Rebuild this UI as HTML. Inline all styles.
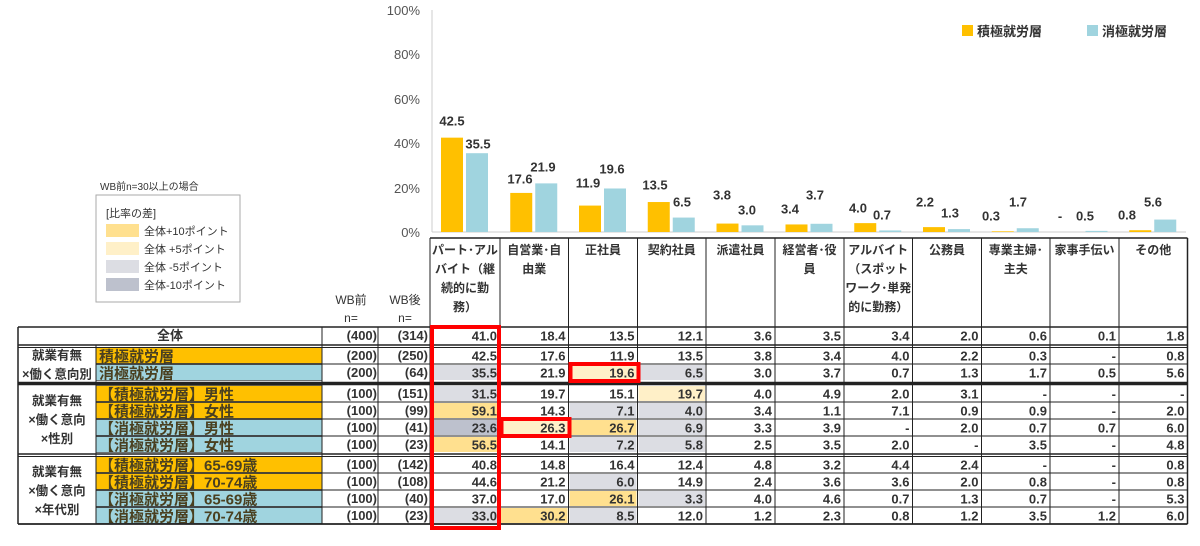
<!DOCTYPE html>
<html><head><meta charset="utf-8"><style>
html,body{margin:0;padding:0;background:#fff;}
svg{display:block;font-family:"Liberation Sans","Noto Sans CJK JP",sans-serif;}
.b{font-weight:bold;}
</style></head><body>
<svg width="1200" height="546" viewBox="0 0 1200 546" xmlns="http://www.w3.org/2000/svg">
<g font-size="13" fill="#555" text-anchor="end">
<text x="420" y="15">100%</text><text x="420" y="59">80%</text><text x="420" y="104">60%</text>
<text x="420" y="148">40%</text><text x="420" y="193">20%</text><text x="420" y="237">0%</text>
</g>
<line x1="432" y1="10" x2="432" y2="232" stroke="#ccc"/>
<line x1="432" y1="232" x2="1186" y2="232" stroke="#ccc"/>
<rect x="962" y="25" width="11" height="11" fill="#FFC000"/>
<text x="977" y="36" font-size="13" class="b" fill="#333">積極就労層</text>
<rect x="1087" y="25" width="11" height="11" fill="#A0D4DF"/>
<text x="1102" y="36" font-size="13" class="b" fill="#333">消極就労層</text>
<g id="bars"></g>
<g font-size="13" class="b" fill="#333" text-anchor="middle" dominant-baseline="central">
<text x="452" y="121">42.5</text><text x="478" y="144">35.5</text>
<text x="520" y="179">17.6</text><text x="543" y="167">21.9</text>
<text x="588" y="183">11.9</text><text x="612" y="169">19.6</text>
<text x="655" y="185">13.5</text><text x="682" y="202">6.5</text>
<text x="722" y="195">3.8</text><text x="747" y="210">3.0</text>
<text x="790" y="209">3.4</text><text x="815" y="195">3.7</text>
<text x="858" y="208">4.0</text><text x="882" y="215">0.7</text>
<text x="925" y="202">2.2</text><text x="950" y="213">1.3</text>
<text x="991" y="216">0.3</text><text x="1018" y="202">1.7</text>
<text x="1060" y="216">-</text><text x="1085" y="216">0.5</text>
<text x="1127" y="215">0.8</text><text x="1153" y="202">5.6</text>
</g>
<text x="100" y="190" font-size="10" fill="#333">WB前n=30以上の場合</text>
<rect x="96" y="195" width="144" height="107" fill="#fff" stroke="#aaa"/>
<text x="106" y="217" font-size="11" fill="#333">[比率の差]</text>
<rect x="106" y="224" width="33" height="13" fill="#FFE08F"/><text x="144" y="235" font-size="11" fill="#333">全体+10ポイント</text>
<rect x="106" y="242" width="33" height="13" fill="#FFF0C8"/><text x="144" y="253" font-size="11" fill="#333">全体 +5ポイント</text>
<rect x="106" y="260" width="33" height="13" fill="#DCDDE3"/><text x="144" y="271" font-size="11" fill="#333">全体 -5ポイント</text>
<rect x="106" y="278" width="33" height="13" fill="#BDC1CD"/><text x="144" y="289" font-size="11" fill="#333">全体-10ポイント</text>
<g font-size="12" fill="#333" text-anchor="middle">
<text x="351" y="304">WB前</text><text x="351" y="322">n=</text>
<text x="405" y="304">WB後</text><text x="405" y="322">n=</text>
</g>
<g id="tbl"></g>
</svg>
<script>
var NS="http://www.w3.org/2000/svg";
function el(p,t,a,txt){var e=document.createElementNS(NS,t);for(var k in a)e.setAttribute(k,a[k]);if(txt!=null)e.textContent=txt;p.appendChild(e);return e;}
var bars=document.getElementById('bars');
var Y=[42.5,17.6,11.9,13.5,3.8,3.4,4.0,2.2,0.3,0,0.8],B=[35.5,21.9,19.6,6.5,3.0,3.7,0.7,1.3,1.7,0.5,5.6];
var X=[430,500,568.5,637.5,706,775,844,912.5,981.5,1050,1119,1187.5];
for(var i=0;i<11;i++){var c=(X[i]+X[i+1])/2;
 var h=Y[i]*2.22;el(bars,'rect',{x:c-24,y:232-h,width:22,height:h,fill:'#FFC000'});
 h=B[i]*2.22;el(bars,'rect',{x:c+1,y:232-h,width:22,height:h,fill:'#A0D4DF'});}
var t=document.getElementById('tbl');
var hd=[["パート･アル","バイト（継","続的に勤","務）"],["自営業･自","由業"],["正社員"],["契約社員"],["派遣社員"],["経営者･役","員"],["アルバイト","（スポット","ワーク･単発","的に勤務）"],["公務員"],["専業主婦･","主夫"],["家事手伝い"],["その他"]];
for(var i=0;i<11;i++){var c=(X[i]+X[i+1])/2;for(var j=0;j<hd[i].length;j++)el(t,'text',{x:c,y:254+j*19,'font-size':12,'text-anchor':'middle',fill:'#333','class':'b'},hd[i][j]);}
var tops=[327,347,364,385,402,419,436,456,473,490,507],H=17;
var labels=["全体","積極就労層","消極就労層","【積極就労層】男性","【積極就労層】女性","【消極就労層】男性","【消極就労層】女性","【積極就労層】65-69歳","【積極就労層】70-74歳","【消極就労層】65-69歳","【消極就労層】70-74歳"];
var n1=["(400)","(200)","(200)","(100)","(100)","(100)","(100)","(100)","(100)","(100)","(100)"];
var n2=["(314)","(250)","(64)","(151)","(99)","(41)","(23)","(142)","(108)","(40)","(23)"];
var D=[["41.0","18.4","13.5","12.1","3.6","3.5","3.4","2.0","0.6","0.1","1.8"],
["42.5","17.6","11.9","13.5","3.8","3.4","4.0","2.2","0.3","-","0.8"],
["35.5","21.9","19.6","6.5","3.0","3.7","0.7","1.3","1.7","0.5","5.6"],
["31.5","19.7","15.1","19.7","4.0","4.9","2.0","3.1","-","-","-"],
["59.1","14.3","7.1","4.0","3.4","1.1","7.1","0.9","0.9","-","2.0"],
["23.6","26.3","26.7","6.9","3.3","3.9","-","2.0","0.7","0.7","6.0"],
["56.5","14.1","7.2","5.8","2.5","3.5","2.0","-","3.5","-","4.8"],
["40.8","14.8","16.4","12.4","4.8","3.2","4.4","2.4","-","-","0.8"],
["44.6","21.2","6.0","14.9","2.4","3.6","3.6","2.0","0.8","-","0.8"],
["37.0","17.0","26.1","3.3","4.0","4.6","0.7","1.3","0.7","-","5.3"],
["33.0","30.2","8.5","12.0","1.2","2.3","0.8","1.2","3.5","1.2","6.0"]];
var P10='#FFE08F',P5='#FFF0C8',M5='#DCDDE3',M10='#BDC1CD';
var CL={"2_0":M5,"2_2":P5,"2_3":M5,"3_0":M5,"3_3":P5,"4_0":P10,"4_2":M5,"4_3":M5,"5_0":M10,"5_1":P5,"5_2":P10,"5_3":M5,"6_0":P10,"6_2":M5,"6_3":M5,"8_2":M5,"9_2":P10,"9_3":M5,"10_0":M5,"10_1":P10,"10_2":M5};
for(var r=0;r<11;r++){var y=tops[r];
 if(r==0){el(t,'text',{x:170,y:y+13,'font-size':13,'text-anchor':'middle','class':'b',fill:'#333'},labels[0]);}
 else{var col=(r==1||r==3||r==4||r==7||r==8)?'#FFC000':'#A0D4DF';
  el(t,'rect',{x:96,y:y+0.5,width:226,height:H-1,fill:col,stroke:'#555','stroke-width':0.8});
  el(t,'text',{x:99,y:y+14.5,'font-size':15,'class':'b',fill:'#4a4020'},labels[r]);}
 el(t,'text',{x:377,y:y+13,'font-size':13,'text-anchor':'end','class':'b',fill:'#333'},n1[r]);
 el(t,'text',{x:428,y:y+13,'font-size':13,'text-anchor':'end','class':'b',fill:'#333'},n2[r]);
 for(var i=0;i<11;i++){var k=r+"_"+i;
  if(CL[k])el(t,'rect',{x:X[i]+1,y:y+1,width:X[i+1]-X[i]-2,height:H-2,fill:CL[k]});
  el(t,'text',{x:X[i+1]-3,y:y+13.5,'font-size':13,'text-anchor':'end','class':'b',fill:'#333'},D[r][i]);}
}
var G=[[347,381,["就業有無","×働く意向別"]],[385,453,["就業有無","×働く意向","×性別"]],[456,524,["就業有無","×働く意向","×年代別"]]];
G.forEach(function(g){var n=g[2].length,c=(g[0]+g[1])/2;for(var j=0;j<n;j++)el(t,'text',{x:57,y:c+(j-(n-1)/2)*19+5,'font-size':12.5,'text-anchor':'middle','class':'b',fill:'#333'},g[2][j]);});
function L(x1,y1,x2,y2,w,c){el(t,'line',{x1:x1,y1:y1,x2:x2,y2:y2,stroke:c||'#222','stroke-width':w||1});}
L(430,238,1187.5,238,1.5);
for(var i=0;i<12;i++)L(X[i],238,X[i],327,1);
L(18,327,1187.5,327,1.5);
[364,402,419,436,473,490,507].forEach(function(y){L(96,y,1187.5,y,1);});
L(18,345,1187.5,345,1.5);L(18,347.5,1187.5,347.5,1);
L(18,383.5,1187.5,383.5,3.5);
L(18,454,1187.5,454,1.5);L(18,456.5,1187.5,456.5,1);
L(18,524,1187.5,524,1.8);
L(18,327,18,524,1.5);L(1187.5,238,1187.5,524,1.5);
L(96,345,96,524,1);L(322,327,322,524,1);L(378,327,378,524,1);
for(var i=0;i<12;i++)L(X[i],327,X[i],524,1);
el(t,'rect',{x:432,y:327,width:67,height:201,fill:'none',stroke:'#F00','stroke-width':4});
el(t,'rect',{x:570.5,y:364,width:68,height:17,fill:'none',stroke:'#F00','stroke-width':4});
el(t,'rect',{x:501.5,y:419,width:68,height:17,fill:'none',stroke:'#F00','stroke-width':4});
</script>
</body></html>
